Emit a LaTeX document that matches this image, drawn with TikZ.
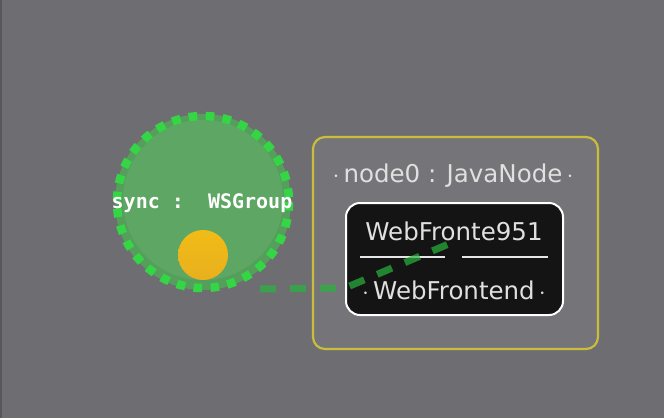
\documentclass[tikz,border=0pt]{standalone}
\usepackage{fontspec}
\setmainfont{DejaVu Sans}
\setmonofont{DejaVu Sans Mono}
\begin{document}
\begin{tikzpicture}[x=1pt,y=-1pt,
  grouplabel/.style={font=\ttfamily\bfseries\fontsize{20}{20}\selectfont,text=white,inner sep=0},
  boxtext/.style={font=\fontsize{24.5}{24.5}\selectfont,text=white!88!black,inner sep=0},
  link/.style={draw=linkgreen,line width=7pt,dash pattern=on 16pt off 14pt,opacity=0.7}]
\definecolor{bggray}{RGB}{110,110,114}
\definecolor{ringgreen}{RGB}{52,214,70}
\definecolor{fillgreen}{RGB}{86,158,92}
\definecolor{innergreen}{RGB}{94,166,100}
\definecolor{ballyellow}{RGB}{240,184,24}
\definecolor{boxyellow}{RGB}{200,190,60}
\definecolor{linkgreen}{RGB}{40,180,60}
\useasboundingbox (0,0) rectangle (664,418);
\fill[bggray] (0,0) rectangle (664,418);
\fill[bggray!80!black] (0,0) rectangle (2,418);
% group circle
\fill[fillgreen] (203,202) circle (88);
\fill[innergreen] (203,200) circle (80);
\draw[ringgreen,line width=8.5pt,dash pattern=on 8.5pt off 8.5pt] (203,202) circle (86);
\node[grouplabel] (grp) at (202,203) {sync :\ \ WSGroup};
\shade[top color=ballyellow!95!yellow,bottom color=ballyellow!85!brown] (203,255) circle (25);
\coordinate (ball) at (260,289);
% java node box
\draw[boxyellow,line width=2.2pt,fill=bggray!95!white,rounded corners=12] (313,137) rectangle (598,349);
\node[boxtext] (title) at (453,176) {$\cdot$\,node0 : JavaNode\,$\cdot$};
\draw[white,line width=2pt,fill=black!92,rounded corners=14] (346,203) rectangle (563,315);
\node[boxtext] (inst) at (454,231) {WebFronte951};
\draw[white!90!black,line width=2.5pt] (360,257) -- (445,257) (462,257) -- (548,257);
\node[boxtext] (typ) at (454,290) {$\cdot$\,WebFrontend\,$\cdot$};
\coordinate (bend) at (345,288);
\coordinate (tip) at (458,240);
\draw[link] (ball) -- (bend) -- (tip);
\end{tikzpicture}
\end{document}
